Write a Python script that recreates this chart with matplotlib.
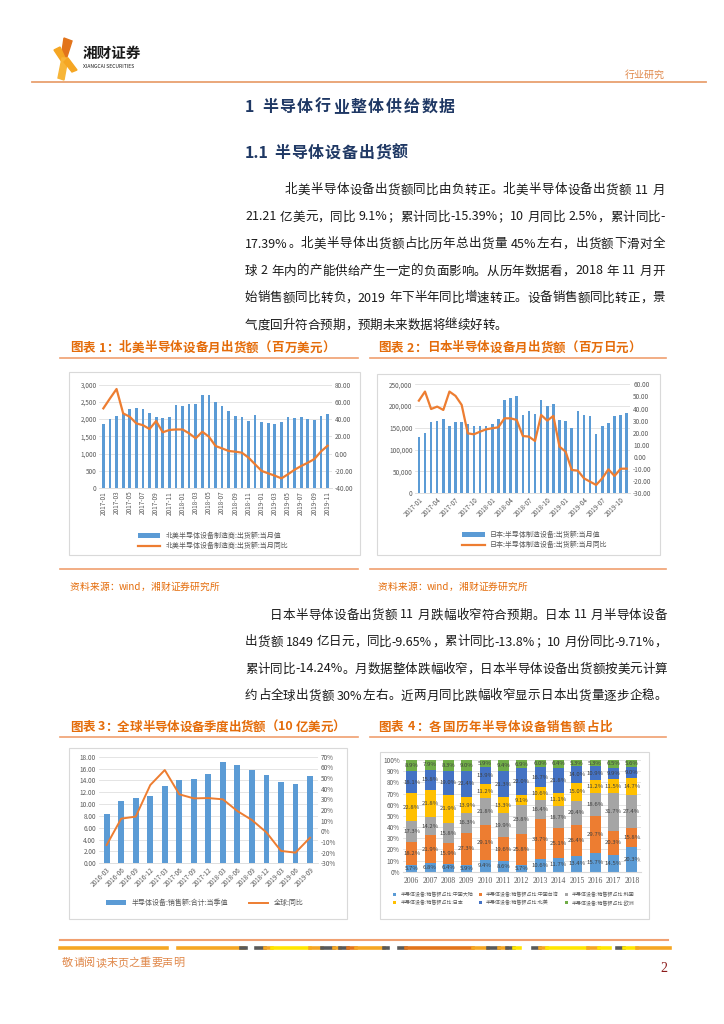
import matplotlib
matplotlib.use("Agg")
import matplotlib.pyplot as plt
import numpy as np
import pandas as pd
from matplotlib.patches import Rectangle, Polygon
from matplotlib.lines import Line2D
from matplotlib.ticker import FuncFormatter, MultipleLocator

plt.rcParams["font.family"] = ["Noto Sans CJK SC", "DejaVu Sans"]
plt.rcParams["axes.unicode_minus"] = False

# ---------------- data ----------------
months_na = pd.period_range("2017-01", "2019-11", freq="M").strftime("%Y-%m").tolist()
na_ship = [1860, 1990, 2100, 2180, 2290, 2310, 2290, 2180, 2050, 2030, 2050, 2420,
           2390, 2440, 2440, 2700, 2710, 2500, 2390, 2250, 2100, 2050, 1950, 2120,
           1910, 1890, 1850, 1930, 2070, 2040, 2060, 2010, 1970, 2100, 2140]
na_yoy = [52.5, 64.0, 75.0, 46.7, 42.8, 35.0, 33.0, 28.5, 37.8, 24.7, 27.4, 28.0,
          28.0, 23.5, 17.7, 25.4, 19.6, 8.8, 6.0, 3.0, 2.2, 1.0, -4.7, -12.5,
          -20.2, -23.0, -25.7, -28.8, -24.0, -18.7, -14.4, -10.6, -6.3, 2.5, 9.1]

months_jp = pd.period_range("2017-01", "2019-11", freq="M").strftime("%Y-%m").tolist()
jp_ship = [130000, 137600, 162800, 166700, 171300, 154400, 162800, 162800, 159000, 154400,
           154400, 155200, 159000, 171300, 214000, 217900, 223200, 179700, 189600, 181000,
           214000, 201000, 204000, 167000, 166000, 150000, 189000, 179700, 177000, 137000,
           154000, 160500, 178000, 180500, 184900]
jp_yoy = [46.5, 54.0, 39.6, 41.6, 38.8, 54.0, 50.4, 43.0, 19.5, 18.7, 20.9, 22.8,
          23.7, 24.5, 31.9, 31.9, 30.6, 17.3, 16.8, 13.2, 34.7, 30.0, 33.9, 8.5,
          4.4, -10.7, -11.3, -17.6, -20.4, -23.1, -17.6, -10.2, -15.7, -9.71, -9.65]

quarters = ["2016-03", "2016-06", "2016-09", "2016-12", "2017-03", "2017-06", "2017-09",
            "2017-12", "2018-03", "2018-06", "2018-09", "2018-12", "2019-03", "2019-06",
            "2019-09"]
global_sales = [8.30, 10.50, 11.00, 11.40, 13.05, 14.06, 14.23, 15.07, 17.04, 16.60,
                15.75, 14.90, 13.78, 13.33, 14.74]
global_yoy = [-12.8, 11.9, 13.8, 43.4, 57.5, 34.7, 30.9, 31.2, 30.0, 19.0, 10.6, -1.0,
              -18.4, -20.0, -6.0]

years = ["2006", "2007", "2008", "2009", "2010", "2011", "2012", "2013", "2014", "2015",
         "2016", "2017", "2018"]
share_china = [5.7, 6.8, 6.4, 5.9, 9.4, 8.6, 5.7, 10.6, 11.7, 13.4, 15.7, 14.5, 20.3]
share_taiwan = [18.2, 21.9, 15.9, 27.3, 29.1, 19.6, 25.8, 33.7, 25.1, 26.4, 29.7, 20.3, 15.8]
share_korea = [17.3, 14.2, 15.8, 16.3, 21.8, 19.9, 23.8, 16.4, 18.7, 20.4, 18.6, 31.7, 27.4]
share_japan = [22.8, 21.8, 21.9, 13.9, 11.2, 13.3, 9.1, 10.6, 11.1, 15.0, 11.2, 11.5, 14.7]
share_na = [18.1, 15.8, 19.0, 22.4, 13.9, 21.3, 22.0, 16.7, 21.8, 14.0, 10.9, 9.9, 9.0]
share_europe = [8.9, 7.9, 8.3, 9.0, 5.9, 9.4, 6.9, 6.0, 6.4, 5.3, 5.3, 6.5, 5.6]
share_names = ["中国大陆", "中国台湾", "韩国", "日本", "北美", "欧洲"]

para1 = [
    "北美半导体设备出货额同比由负转正。北美半导体设备出货额 11 月",
    "21.21 亿美元，同比 9.1%；累计同比-15.39%；10 月同比 2.5%，累计同比-",
    "17.39%。北美半导体出货额占比历年总出货量 45%左右，出货额下滑对全",
    "球 2 年内的产能供给产生一定的负面影响。从历年数据看，2018 年 11 月开",
    "始销售额同比转负，2019 年下半年同比增速转正。设备销售额同比转正，景",
    "气度回升符合预期，预期未来数据将继续好转。",
]
para2 = [
    "日本半导体设备出货额 11 月跌幅收窄符合预期。日本 11 月半导体设备",
    "出货额 1849 亿日元，同比-9.65%，累计同比-13.8%；10 月份同比-9.71%，",
    "累计同比-14.24%。月数据整体跌幅收窄，日本半导体设备出货额按美元计算",
    "约占全球出货额 30%左右。近两月同比跌幅收窄显示日本出货量逐步企稳。",
]

# ---------------- page helpers ----------------
W, H, DPI = 724, 1024, 100
BLUE, ORANGE = "#5B9BD5", "#ED7D31"
TITLE_C = "#E46C0A"
GRID = "#D9D9D9"
TICK_C = "#595959"

fig = plt.figure(figsize=(W / DPI, H / DPI), dpi=DPI)
R = fig.canvas.get_renderer()


def fx(x):
    return x / W


def fy(y):
    return 1 - y / H


def rect(x0, y0, x1, y1):
    return [x0 / W, 1 - y1 / H, (x1 - x0) / W, (y1 - y0) / H]


def tokens(s):
    out, buf = [], ""
    for ch in s:
        if ord(ch) > 0x2E80 or ch == " ":
            if buf:
                out.append(buf)
                buf = ""
            out.append(ch)
        else:
            buf += ch
    if buf:
        out.append(buf)
    return out


def put_line(s, x0, x1, y, size, justify=True, **kw):
    """draw one line of text, spread over x0..x1 (px) when justify is on"""
    toks = tokens(s)
    arts, ws = [], []
    for t in toks:
        if t == " ":
            arts.append(None)
            ws.append(size * 0.25 * DPI / 72)
            continue
        a = fig.text(0, fy(y), t, fontsize=size, va="center", ha="left", **kw)
        ws.append(a.get_window_extent(R).width)
        arts.append(a)
    gap = (x1 - x0 - sum(ws)) / max(len(toks) - 1, 1) if justify else 0
    x = x0
    for a, w in zip(arts, ws):
        if a is not None:
            a.set_x(fx(x))
        x += w + gap


def hline(x0, x1, y, color, lw):
    fig.add_artist(Line2D([fx(x0), fx(x1)], [fy(y), fy(y)], color=color, lw=lw))


def box(x0, y0, x1, y1):
    fig.add_artist(Rectangle((fx(x0), fy(y1)), (x1 - x0) / W, (y1 - y0) / H,
                             facecolor="white", edgecolor=GRID, lw=0.8, zorder=-5))


def style_axes(ax, ax2):
    for a in (ax, ax2):
        for sp in a.spines.values():
            sp.set_visible(False)
        a.tick_params(length=0, labelsize=4.6, labelcolor=TICK_C, pad=2)
    ax.spines["bottom"].set_visible(True)
    ax.spines["bottom"].set_color(GRID)
    ax.spines["bottom"].set_linewidth(0.6)
    ax.grid(axis="y", color=GRID, lw=0.5)
    ax.set_axisbelow(True)
    ax.patch.set_alpha(0)


# ---------------- header ----------------
fig.add_artist(Polygon([(fx(64), fy(38)), (fx(72), fy(41)), (fx(66), fy(60)), (fx(61), fy(58))],
                       closed=True, color="#E2741B"))
fig.add_artist(Polygon([(fx(54), fy(50)), (fx(60), fy(47)), (fx(66), fy(60)), (fx(62), fy(62))],
                       closed=True, color="#F5A623"))
fig.add_artist(Polygon([(fx(62), fy(58)), (fx(68), fy(58)), (fx(64), fy(80)), (fx(58), fy(78))],
                       closed=True, color="#F7B538"))
fig.add_artist(Polygon([(fx(64), fy(62)), (fx(68), fy(58)), (fx(77), fy(70)), (fx(72), fy(72))],
                       closed=True, color="#F5A623"))
fig.text(fx(83), fy(53), "湘财证券", fontsize=10.5, fontweight="bold", color="#1A1A1A",
         va="center")
fig.text(fx(83), fy(67), "XIANGCAI SECURITIES", fontsize=3.6, color="#1A1A1A", va="center")
fig.text(fx(665), fy(75), "行业研究", fontsize=7.2, color="#E0884A", va="center", ha="right")
hline(32, 706, 82, "#E8A070", 1.3)

put_line("1 半导体行业整体供给数据", 245, 455, 107, 11.5, fontweight="bold", color="#1F3864")
put_line("1.1 半导体设备出货额", 245, 408, 153, 11.5, fontweight="bold", color="#1F3864")

body_c = "#1A1A1A"
for i, s in enumerate(para1):
    x0 = 285 if i == 0 else 245
    put_line(s, x0, 665, 190 + i * 27, 9, justify=(i < len(para1) - 1), color=body_c)
for i, s in enumerate(para2):
    x0 = 270 if i == 0 else 245
    put_line(s, x0, 667, 615 + i * 27, 9, color=body_c)

# ---------------- chart titles / frames ----------------
put_line("图表 1：北美半导体设备月出货额（百万美元）", 70, 335, 348, 9, fontweight="bold", color=TITLE_C)
put_line("图表 2：日本半导体设备月出货额（百万日元）", 378, 641, 348, 9, fontweight="bold", color=TITLE_C)
hline(60, 358, 358, "#F0A070", 1.2)
hline(370, 666, 358, "#F0A070", 1.2)
box(69, 372, 360, 555)
box(377, 374, 660, 555)
hline(60, 358, 569, "#F0A070", 1.2)
hline(370, 666, 569, "#F0A070", 1.2)
put_line("资料来源：wind，湘财证券研究所", 70, 232, 587, 7, justify=False, color=TITLE_C)
put_line("资料来源：wind，湘财证券研究所", 378, 540, 587, 7, justify=False, color=TITLE_C)

put_line("图表 3：全球半导体设备季度出货额（10 亿美元）", 70, 345, 727, 9, fontweight="bold", color=TITLE_C)
put_line("图表 4：各国历年半导体设备销售额占比", 378, 612, 727, 9, fontweight="bold", color=TITLE_C)
hline(60, 358, 737, "#F0A070", 1.2)
hline(370, 666, 737, "#F0A070", 1.2)
box(69, 748, 347, 919)
box(380, 752, 649, 919)

# ---------------- chart 1 ----------------
ax = fig.add_axes(rect(99.4, 384.7, 331.6, 488))
ax2 = ax.twinx()
x = np.arange(len(months_na))
ax.bar(x, na_ship, width=0.42, color=BLUE, label="北美半导体设备制造商:出货额:当月值")
ax2.plot(x, na_yoy, color=ORANGE, lw=1.6, label="北美半导体设备制造商:出货额:当月同比")
ax.set_xlim(-0.6, len(x) - 0.4)
ax.set_ylim(0, 3000)
ax.yaxis.set_major_locator(MultipleLocator(500))
ax.yaxis.set_major_formatter(FuncFormatter(lambda v, p: f"{v:,.0f}"))
ax2.set_ylim(-40, 80)
ax2.yaxis.set_major_locator(MultipleLocator(20))
ax2.yaxis.set_major_formatter(FuncFormatter(lambda v, p: f"{v:.2f}"))
ax.set_xticks(x[::2])
ax.set_xticklabels(months_na[::2], rotation=90)
style_axes(ax, ax2)
h1, l1 = ax.get_legend_handles_labels()
h2, l2 = ax2.get_legend_handles_labels()
fig.legend(h1 + h2, l1 + l2, loc="center", bbox_to_anchor=(fx(213), fy(541)), ncol=1,
           frameon=False, fontsize=5, labelcolor=TICK_C, handlelength=3.2, handleheight=0.6,
           labelspacing=0.35)

# ---------------- chart 2 ----------------
ax = fig.add_axes(rect(415.2, 384.3, 630.4, 493.3))
ax2 = ax.twinx()
x = np.arange(len(months_jp))
ax.bar(x, jp_ship, width=0.42, color=BLUE, label="日本:半导体制造设备:出货额:当月值")
ax2.plot(x, jp_yoy, color=ORANGE, lw=1.6, label="日本:半导体制造设备:出货额:当月同比")
ax.set_xlim(-0.6, len(x) - 0.4)
ax.set_ylim(0, 250000)
ax.yaxis.set_major_locator(MultipleLocator(50000))
ax.yaxis.set_major_formatter(FuncFormatter(lambda v, p: f"{v:,.0f}"))
ax2.set_ylim(-30, 60)
ax2.yaxis.set_major_locator(MultipleLocator(10))
ax2.yaxis.set_major_formatter(FuncFormatter(lambda v, p: f"{v:.2f}"))
ax.set_xticks(x[::3])
ax.set_xticklabels(months_jp[::3], rotation=45, ha="right", rotation_mode="anchor")
style_axes(ax, ax2)
h1, l1 = ax.get_legend_handles_labels()
h2, l2 = ax2.get_legend_handles_labels()
fig.legend(h1 + h2, l1 + l2, loc="center", bbox_to_anchor=(fx(535), fy(540)), ncol=1,
           frameon=False, fontsize=5, labelcolor=TICK_C, handlelength=3.2, handleheight=0.6,
           labelspacing=0.35)

# ---------------- chart 3 ----------------
ax = fig.add_axes(rect(98.7, 756.7, 318, 863.3))
ax2 = ax.twinx()
x = np.arange(len(quarters))
ax.bar(x, global_sales, width=0.4, color=BLUE, label="半导体设备:销售额:合计:当季值")
ax2.plot(x, global_yoy, color=ORANGE, lw=1.4, label="全球:同比")
ax.set_xlim(-0.55, len(x) - 0.45)
ax.set_ylim(0, 18)
ax.yaxis.set_major_locator(MultipleLocator(2))
ax.yaxis.set_major_formatter(FuncFormatter(lambda v, p: f"{v:.2f}"))
ax2.set_ylim(-30, 70)
ax2.yaxis.set_major_locator(MultipleLocator(10))
ax2.yaxis.set_major_formatter(FuncFormatter(lambda v, p: f"{v:.0f}%"))
ax.set_xticks(x)
ax.set_xticklabels(quarters, rotation=45, ha="right", rotation_mode="anchor")
style_axes(ax, ax2)
h1, l1 = ax.get_legend_handles_labels()
h2, l2 = ax2.get_legend_handles_labels()
fig.legend(h1 + h2, l1 + l2, loc="center", bbox_to_anchor=(fx(205), fy(903)), ncol=2,
           frameon=False, fontsize=5, labelcolor=TICK_C, handlelength=2.8, handleheight=0.6,
           columnspacing=3.0)

# ---------------- chart 4 ----------------
ax = fig.add_axes(rect(402.5, 760, 641, 871.7))
series = [share_china, share_taiwan, share_korea, share_japan, share_na, share_europe]
colors = ["#5B9BD5", "#ED7D31", "#A5A5A5", "#FFC000", "#4472C4", "#70AD47"]
vals = np.array(series)
tot = vals.sum(axis=0)
x = np.arange(len(years))
bottom = np.zeros(len(years))
for name, v, c in zip(share_names, vals, colors):
    pct = v / tot * 100
    ax.bar(x, pct, width=0.6, bottom=bottom, color=c, label=f"半导体设备:销售额占比:{name}")
    for xi, b, p, raw in zip(x, bottom, pct, v):
        ax.text(xi, b + p / 2, f"{raw:.1f}%", ha="center", va="center", fontsize=4.3,
                color="#404040")
    bottom += pct
ax.set_xlim(-0.5, len(x) - 0.5)
ax.set_ylim(0, 100)
ax.yaxis.set_major_locator(MultipleLocator(10))
ax.yaxis.set_major_formatter(FuncFormatter(lambda v, p: f"{v:.0f}%"))
ax.set_xticks(x)
ax.set_xticklabels(years, fontfamily="Liberation Serif", fontsize=5.5)
for sp in ax.spines.values():
    sp.set_visible(False)
ax.spines["bottom"].set_visible(True)
ax.spines["bottom"].set_color(GRID)
ax.tick_params(length=0, labelsize=4.6, labelcolor=TICK_C, pad=2)
ax.tick_params(axis="x", labelsize=5.5, pad=4)
ax.grid(axis="y", color=GRID, lw=0.5)
ax.set_axisbelow(True)
ax.patch.set_alpha(0)
hs, ls = ax.get_legend_handles_labels()
order = [0, 3, 1, 4, 2, 5]  # legend fills by column, reference reads by row
fig.legend([hs[i] for i in order], [ls[i] for i in order], loc="center",
           bbox_to_anchor=(fx(514), fy(899)), ncol=3, frameon=False, fontsize=3.6,
           labelcolor=TICK_C, handlelength=0.6, handleheight=0.6, columnspacing=1.2,
           labelspacing=0.5)

# ---------------- footer ----------------
hline(60, 668, 940, "#F0A070", 1.5)
stripes = [(60, 167, "#F5A623"), (178, 244, "#F5A623"), (241, 246, "#595959"),
           (256, 265, "#595959"), (265, 272, "#F5A623"), (272, 310, "#FFE600"),
           (310, 322, "#F5A623"), (322, 334, "#595959"), (334, 340, "#F5A623"),
           (340, 348, "#595959"), (348, 356, "#E2741B"), (356, 384, "#F5A623"),
           (384, 388, "#595959"), (399, 406, "#595959"), (406, 473, "#E2741B"),
           (473, 488, "#F5A623"), (488, 499, "#595959"), (499, 507, "#F5A623"),
           (507, 514, "#595959"), (514, 520, "#FFE600"), (533, 540, "#595959"),
           (540, 547, "#F5A623"), (547, 588, "#FFE600"), (588, 599, "#F5A623"),
           (599, 610, "#FFE600"), (617, 624, "#595959"), (624, 637, "#FFE600"),
           (637, 670, "#F5A623")]
for a, b, c in stripes:
    hline(a, b, 948, c, 2.6)
put_line("敬请阅读末页之重要声明", 62, 182, 963, 8, justify=False, color="#E0884A")
fig.text(fx(664), fy(968), "2", fontsize=10, color="#8B1A1A", fontfamily="Liberation Serif",
         ha="center", va="center")

fig.savefig("out.png", dpi=DPI)
